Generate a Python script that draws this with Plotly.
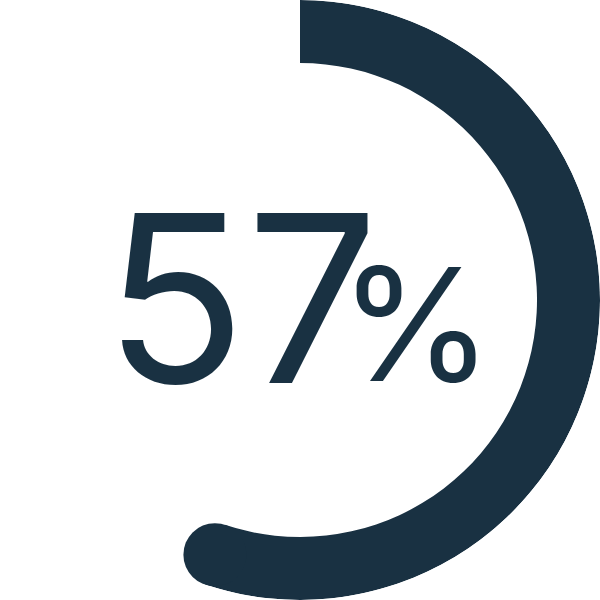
import plotly.graph_objects as go
import math

# Data
percent_values = [57]
number_texts = ["57"]
unit_texts = ["%"]

COLOR = "#193142"
inner_frac = 0.79   # hole ratio
outer_frac = 1.0

value = percent_values[0]
total_deg = value / 100 * 360
mid_r = (inner_frac + outer_frac) / 2
half_th = (outer_frac - inner_frac) / 2
cap_deg = math.degrees(half_th / mid_r)
body_deg = total_deg - cap_deg

fig = go.Figure()
fig.add_trace(go.Barpolar(
    r=[outer_frac - inner_frac], base=[inner_frac],
    theta=[body_deg / 2], width=[body_deg],
    marker=dict(color=COLOR, line=dict(width=0)),
    hoverinfo="skip", showlegend=False,
))
fig.add_trace(go.Scatterpolar(
    r=[mid_r], theta=[body_deg], mode="markers",
    marker=dict(color=COLOR, size=(outer_frac - inner_frac) * 300, line=dict(width=0)),
    hoverinfo="skip", showlegend=False,
))
fig.update_layout(
    width=600, height=600,
    margin=dict(l=0, r=0, t=0, b=0),
    paper_bgcolor="white", plot_bgcolor="white",
    polar=dict(
        domain=dict(x=[0, 1], y=[0, 1]),
        bgcolor="white",
        bargap=0,
        radialaxis=dict(range=[0, 1], visible=False),
        angularaxis=dict(rotation=90, direction="clockwise", visible=False),
    ),
    annotations=[
        dict(text=number_texts[0], x=241 / 600, y=0.5, xref="paper", yref="paper",
             showarrow=False, xanchor="center", yanchor="middle", yshift=3,
             font=dict(family="Inter", size=234, color=COLOR)),
        dict(text=unit_texts[0], x=416 / 600, y=0.5, xref="paper", yref="paper",
             showarrow=False, xanchor="center", yanchor="middle", yshift=-24,
             font=dict(family="Inter", size=157, color=COLOR)),
    ],
)
fig.write_html("out.html", config={"displayModeBar": False},
               post_script="document.body.style.margin='0';document.body.style.padding='0';")
